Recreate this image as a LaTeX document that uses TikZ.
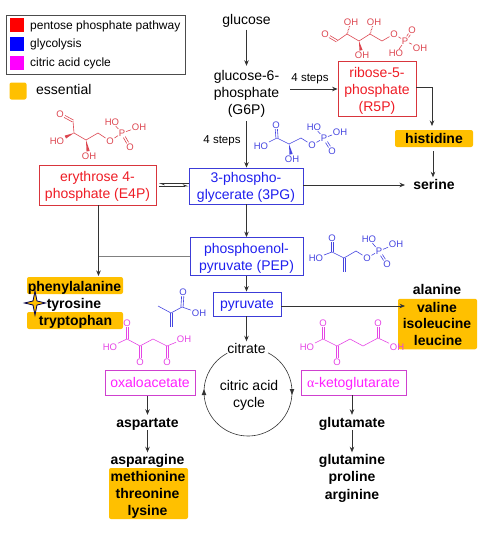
\documentclass[tikz,border=0pt]{standalone}
\usepackage{fontspec}
\setmainfont{Liberation Sans}
\newfontfamily\symbfont{Liberation Serif}
\usetikzlibrary{arrows.meta,calc}
\definecolor{myred}{HTML}{EE1C25}
\definecolor{myblue}{HTML}{1F1FEE}
\definecolor{mymag}{HTML}{FF1FFF}
\definecolor{bred}{HTML}{D8353C}
\definecolor{bblue}{HTML}{3C3CD8}
\definecolor{bmag}{HTML}{CF40CF}
\definecolor{mred}{HTML}{DC4650}
\definecolor{mblue}{HTML}{4646E0}
\definecolor{mmag}{HTML}{E545E5}
\definecolor{ess}{HTML}{FFC000}
\definecolor{legred}{HTML}{FF0000}
\definecolor{legblue}{HTML}{0000FF}
\definecolor{legmag}{HTML}{FF00FF}
\tikzset{
  multi/.style={font=\fontsize{14}{17}\selectfont,align=center,inner sep=0pt},
  lbl/.style={font=\fontsize{14}{17}\selectfont,inner sep=0pt,text height=11pt,text depth=2pt},
  aa/.style={font=\fontsize{14}{17}\selectfont\bfseries,inner sep=0pt,text height=11pt,text depth=2pt},
  stepnote/.style={font=\fontsize{11.5}{13}\selectfont,inner sep=0pt},
  pbox/.style={draw=#1,line width=.8pt,inner sep=0pt},
  arr/.style={draw=black!80,line width=.7pt,-{Stealth[length=5.5pt,width=4.5pt]}},
  essbox/.style={fill=ess,rounded corners=2pt,inner sep=0pt},
  legt/.style={font=\fontsize{12}{13}\selectfont,anchor=west,inner sep=0pt,text height=9pt,text depth=2.5pt},
  atom/.style={font=\fontsize{9.5}{10}\selectfont,inner sep=.6pt},
  bond/.style={line width=.6pt},
}
\newcommand{\wdg}[2]{\path (#1) -- (#2) coordinate[pos=.95] (wtmp);
  \fill (#1) -- ($(wtmp)!1.6pt!90:(#1)$) -- ($(wtmp)!1.6pt!-90:(#1)$) -- cycle;}
\newcommand{\hsh}[2]{\draw[line width=1.1pt,dash pattern=on .6pt off .9pt] (#1) -- (#2);}
\newcommand{\dbn}[2]{\path (#1) -- (#2) coordinate[pos=0] (utmp) coordinate[pos=1] (vtmp);
  \draw[bond] ($(utmp)!1.1pt!90:(vtmp)$) -- ($(vtmp)!1.1pt!-90:(utmp)$);
  \draw[bond] ($(utmp)!1.1pt!-90:(vtmp)$) -- ($(vtmp)!1.1pt!90:(utmp)$);}
\begin{document}
\begin{tikzpicture}[x=1pt,y=-1pt]
\useasboundingbox (0,0) rectangle (499,535);
% legend
\node[draw=black!70,line width=.9pt,minimum width=179pt,minimum height=59pt,inner sep=0pt] (legend) at (95.5,44.5) {};
\node[fill=legred,minimum size=14pt,inner sep=0pt] (lr) at (17,25.5) {};
\node[fill=legblue,minimum size=14pt,inner sep=0pt] (lb) at (17,44) {};
\node[fill=legmag,minimum size=14pt,inner sep=0pt] (lm) at (17,63) {};
\node[legt] (ltr) at (30,26) {pentose phosphate pathway};
\node[legt] (ltb) at (30,44) {glycolysis};
\node[legt] (ltm) at (30,63.5) {citric acid cycle};
\node[essbox,minimum size=17pt] (les) at (18,91) {};
\node[legt,font=\fontsize{14}{15}\selectfont] (let) at (36,91) {essential};
% main nodes
\node[lbl] (glucose) at (246.5,20) {glucose};
\node[multi,minimum height=55pt] (g6p) at (246.5,93.5) {glucose-6-\\phosphate\\(G6P)};
\node[pbox=bred,minimum width=78pt,minimum height=55pt] (r5p) at (377,88.5) {};
\node[multi,text=myred] (r5pt) at (377,91) {ribose-5-\\phosphate\\(R5P)};
\node[pbox=bred,minimum width=117pt,minimum height=40pt] (e4p) at (97.5,185) {};
\node[multi,text=myred] (e4pt) at (97.5,186.5) {erythrose 4-\\phosphate (E4P)};
\node[pbox=bblue,minimum width=114pt,minimum height=36pt] (pg) at (246,186) {};
\node[multi,text=myblue] (pgt) at (246,187.5) {3-phospho-\\glycerate (3PG)};
\node[pbox=bblue,minimum width=113pt,minimum height=38pt] (pep) at (246.5,256.5) {};
\node[multi,text=myblue] (pept) at (246.5,258) {phosphoenol-\\pyruvate (PEP)};
\node[pbox=bblue,minimum width=68pt,minimum height=24pt] (pyr) at (247,304) {};
\node[lbl,text=myblue] (pyrt) at (247,303.5) {pyruvate};
\node[pbox=bmag,minimum width=90pt,minimum height=25pt] (oaa) at (150,383) {};
\node[lbl,text=mymag] (oaat) at (150,382.5) {oxaloacetate};
\node[pbox=bmag,minimum width=105pt,minimum height=25pt] (akg) at (353.5,382.5) {};
\node[lbl,text=mymag] (akgt) at (353.5,382.5) {{\symbfont α}-ketoglutarate};
\node[lbl,inner sep=1pt] (citrate) at (246.5,349) {citrate};
\node[multi] (cyc) at (249,395) {citric acid\\cycle};
% essential and other amino acids
\node[essbox,minimum width=78pt,minimum height=17pt] (his) at (434,138.5) {};
\node[aa] (histxt) at (434,139) {histidine};
\node[aa] (ser) at (434,185) {serine};
\node[essbox,minimum width=96pt,minimum height=17pt] (phebox) at (75,285.5) {};
\node[essbox,minimum width=96pt,minimum height=17pt] (trpbox) at (75,320.5) {};
\node[aa] (phe) at (74.5,286.5) {phenylalanine};
\node[aa] (tyr) at (74,303.5) {tyrosine};
\node[aa] (trp) at (75.5,321) {tryptophan};
\draw[draw=black!70!blue,line width=.8pt,fill=ess,line join=miter]
  (24.5,303) -- (33,301) -- (35,291) -- (37,301) -- (45.5,303) -- (37,305) -- (35,315) -- (33,305) -- cycle;
\node[aa] (ala) at (437,290) {alanine};
\node[essbox,minimum width=79pt,minimum height=50.5pt] (valbox) at (437.5,324) {};
\node[aa] (val) at (437,307.5) {valine};
\node[aa] (ile) at (437,324) {isoleucine};
\node[aa] (leu) at (438,341) {leucine};
\node[aa,inner sep=1pt] (asp) at (147.5,422.5) {aspartate};
\node[aa,inner sep=1pt] (asn) at (147.5,460) {asparagine};
\node[essbox,minimum width=79pt,minimum height=51pt] (metbox) at (148.5,493.5) {};
\node[aa] (met) at (148,477) {methionine};
\node[aa] (thr) at (147.5,494) {threonine};
\node[aa] (lys) at (147.5,511) {lysine};
\node[aa,inner sep=1pt] (glu) at (352,422.5) {glutamate};
\node[aa,inner sep=1pt] (gln) at (352,460) {glutamine};
\node[aa] (pro) at (352,477) {proline};
\node[aa] (arg) at (352,494.5) {arginine};
% connectors
\coordinate (valtip) at (405,306);
\coordinate (herel) at (98.5,276);
\coordinate (histurn) at (432,87);
\coordinate (sertip) at (405,185);
\draw[arr] (glucose.south) ++(0,3) -- (g6p.north);
\draw[arr] (g6p.south) -- (g6p.south |- pg.north);
\node[stepnote] (s1) at (222,140.5) {4 steps};
\draw[arr] (290,89) -- (r5p.west |- 0,89);
\node[stepnote] (s2) at (310,79) {4 steps};
\draw[arr] (r5p.east |- histurn) -- (histurn) -- ++(0,39);
\draw[arr] ($(his.south)+(-1,4)$) -- ($(ser.north)+(-1,-1)$);
\draw[arr] (sertip -| pg.east) -- (sertip);
\draw[arr] (pg.south -| g6p) -- (pep.north -| g6p);
\draw[arr] (pep.south -| g6p) -- (pyr.north -| g6p);
\draw[arr] (pyr.south -| g6p) -- (citrate.north);
\draw[arr] (valtip -| pyr.east) -- (valtip);
\draw[arr] (e4p.south -| herel) -- (herel);
\draw[draw=black!50,line width=.8pt] (pep.west) -- (pep.west -| herel);
\draw[line width=.6pt,draw=black!80,-{Stealth[harpoon,length=5pt,width=3.5pt]}] (159,186) -- (188.5,186);
\draw[line width=.6pt,draw=black!80,-{Stealth[harpoon,length=5pt,width=3.5pt]}] (188.5,183.5) -- (159,183.5);
\draw[arr] (oaa.south -| asp) -- (asp.north);
\draw[arr] (asp.south) -- (asn.north);
\draw[arr] (akg.south -| glu) -- (glu.north);
\draw[arr] (glu.south) -- (gln.north);
% cycle
\coordinate (cc) at (248,392);
\path (cc) ++(44,0) coordinate (rr) (cc) ++(-44,0) coordinate (ll);
\draw[draw=black!80,line width=.6pt] ($(cc)+(20,-39.2)$) arc[start angle=63,end angle=-180,radius=44pt];
\draw[draw=black!80,line width=.6pt] (ll) arc[start angle=180,end angle=118,radius=44pt];
\fill[black!80] (rr) ++(-2.3,-3) -- ++(4.6,0) -- ++(-2.3,6) -- cycle;
\fill[black!80] (ll) ++(-2.3,3) -- ++(4.6,0) -- ++(-2.3,-6) -- cycle;
% ---- E4P molecule
\begin{scope}[mred,every node/.append style={atom,text=mred},draw=mred]
\node (eO) at (60,114) {O};
\coordinate (e1) at (73,121); \coordinate (e2) at (74,133); \coordinate (e3) at (86,140); \coordinate (e4) at (98,133);
\node (eOr) at (110,141) {O}; \node (eP) at (122,133) {P};
\node (eHO) at (112,122) {HO}; \node (eOH) at (139,127) {OH}; \node (eOd) at (130,147) {O};
\node (eHOa) at (57,141) {HO}; \node (eOHb) at (89,156) {OH};
\dbn{eO}{e1}
\draw[bond] (e1) -- (e2) -- (e3) -- (e4) -- (eOr) -- (eP) (eP) -- (eHO) (eP) -- (eOH);
\dbn{eP}{eOd}
\wdg{e2}{eHOa}\wdg{e3}{eOHb}
\end{scope}
% ---- R5P molecule
\begin{scope}[mred,every node/.append style={atom,text=mred},draw=mred]
\node (rO) at (325,34) {O};
\coordinate (r1) at (337,41); \coordinate (r2) at (347,34); \coordinate (r3) at (359,41); \coordinate (r4) at (370,34); \coordinate (r5) at (382,41);
\node (rOH1) at (351,22) {OH}; \node (rOH2) at (362,55) {OH}; \node (rOH3) at (374,22) {OH};
\node (rOr) at (394,34) {O}; \node (rP) at (405,41) {P}; \node (rOd) at (412,30) {O}; \node (rOH) at (420,48) {OH}; \node (rHO) at (396,53) {HO};
\dbn{rO}{r1}
\draw[bond] (r1) -- (r2) -- (r3) -- (r4) -- (r5) -- (rOr) -- (rP) (rP) -- (rOH) (rP) -- (rHO);
\dbn{rP}{rOd}
\hsh{r2}{rOH1}\wdg{r3}{rOH2}\hsh{r4}{rOH3}
\end{scope}
% ---- 3PG molecule
\begin{scope}[mblue,every node/.append style={atom,text=mblue},draw=mblue]
\node (gO) at (276,125) {O}; \coordinate (g1) at (277,138); \node (gHO) at (261,146) {HO};
\coordinate (g2) at (289,144); \coordinate (g3) at (301,138);
\node (gOr) at (312,145) {O}; \node (gP) at (324,138) {P}; \node (gHOp) at (314,127) {HO}; \node (gOH) at (340,132) {OH}; \node (gOd) at (332,151) {O};
\node (gOHb) at (292,159) {OH};
\dbn{gO}{g1}
\draw[bond] (gHO) -- (g1) -- (g2) -- (g3) -- (gOr) -- (gP) (gP) -- (gHOp) (gP) -- (gOH);
\dbn{gP}{gOd}
\wdg{g2}{gOHb}
\end{scope}
% ---- PEP molecule
\begin{scope}[mblue,every node/.append style={atom,text=mblue},draw=mblue]
\node (pO) at (332,238) {O}; \coordinate (p1) at (332,252); \node (pHO) at (316,258) {HO};
\coordinate (p2) at (344,258); \coordinate (pm) at (344,272); \coordinate (p3) at (356,251);
\node (pOr) at (367,258) {O}; \node (pP) at (379,251) {P}; \node (pHOp) at (369,239) {HO}; \node (pOH) at (396,244) {OH}; \node (pOd) at (387,264) {O};
\dbn{pO}{p1} \dbn{p2}{pm}
\draw[bond] (pHO) -- (p1) -- (p2) -- (p3) -- (pOr) -- (pP) (pP) -- (pHOp) (pP) -- (pOH);
\dbn{pP}{pOd}
\end{scope}
% ---- methacrylic acid
\begin{scope}[mblue,every node/.append style={atom,text=mblue},draw=mblue]
\node (mO) at (183,292) {O}; \coordinate (m1) at (182,307); \node (mOH) at (199,313) {OH};
\coordinate (m2) at (171,313); \coordinate (m3) at (158,306); \coordinate (m4) at (171,327);
\dbn{mO}{m1} \dbn{m2}{m4}
\draw[bond] (mOH) -- (m1) -- (m2) -- (m3);
\end{scope}
% ---- oxaloacetate
\begin{scope}[mmag,every node/.append style={atom,text=mmag},draw=mmag]
\node (oHO) at (110,347) {HO}; \coordinate (o1) at (127,339); \node (oO1) at (127,323) {O};
\coordinate (o2) at (140,346); \node (oO2) at (140,362) {O}; \coordinate (o3) at (153,339);
\coordinate (o4) at (167,346); \node (oO3) at (167,362) {O}; \node (oOH) at (184,339) {OH};
\dbn{oO1}{o1} \dbn{oO2}{o2} \dbn{oO3}{o4}
\draw[bond] (oHO) -- (o1) -- (o2) -- (o3) -- (o4) -- (oOH);
\end{scope}
% ---- alpha-ketoglutarate
\begin{scope}[mmag,every node/.append style={atom,text=mmag},draw=mmag]
\node (aHO) at (307,347) {HO}; \coordinate (a1) at (323,339); \node (aO1) at (323,323) {O};
\coordinate (a2) at (337,346); \node (aO2) at (337,362) {O}; \coordinate (a3) at (350,339);
\coordinate (a4) at (363,346); \coordinate (a5) at (378,338); \node (aO3) at (378,323) {O}; \node (aOH) at (397,347) {OH};
\dbn{aO1}{a1} \dbn{aO2}{a2} \dbn{aO3}{a5}
\draw[bond] (aHO) -- (a1) -- (a2) -- (a3) -- (a4) -- (a5) -- (aOH);
\end{scope}
\end{tikzpicture}
\end{document}
